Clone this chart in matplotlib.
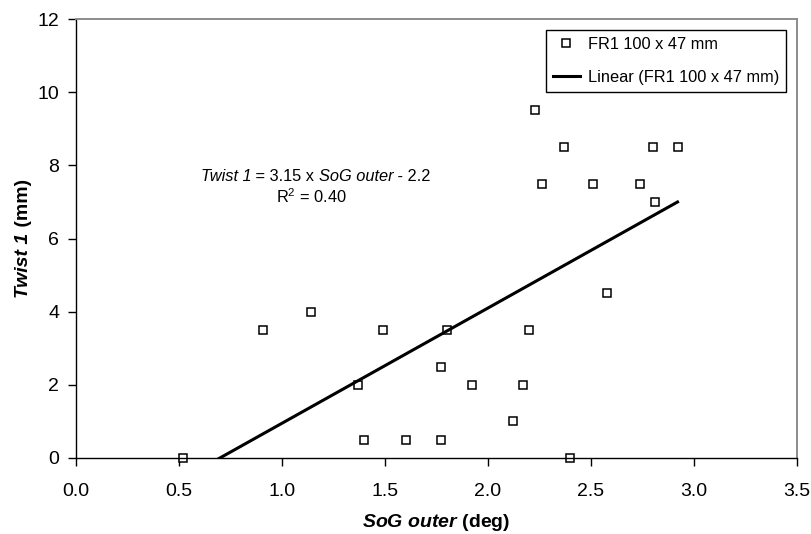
import matplotlib
matplotlib.use("Agg")
import matplotlib.pyplot as plt
import numpy as np

# FR1 100 x 47 mm
sog_outer = [0.52, 0.91, 1.14, 1.37, 1.40, 1.49, 1.60, 1.77, 1.77, 1.80, 1.92, 2.12,
             2.17, 2.20, 2.23, 2.26, 2.37, 2.40, 2.51, 2.58, 2.74, 2.80, 2.81, 2.92]
twist_1 = [0.0, 3.5, 4.0, 2.0, 0.5, 3.5, 0.5, 2.5, 0.5, 3.5, 2.0, 1.0,
           2.0, 3.5, 9.5, 7.5, 8.5, 0.0, 7.5, 4.5, 7.5, 8.5, 7.0, 8.5]

# trendline as printed on the chart
slope = 3.15
intercept = -2.2
r_squared = 0.40

x_ticks = [0.0, 0.5, 1.0, 1.5, 2.0, 2.5, 3.0, 3.5]
y_ticks = [0, 2, 4, 6, 8, 10, 12]
series_label = "FR1 100 x 47 mm"

plt.rcParams['font.family'] = ['Liberation Sans', 'DejaVu Sans']
plt.rcParams['mathtext.fontset'] = 'custom'
plt.rcParams['mathtext.rm'] = 'Liberation Sans'
plt.rcParams['mathtext.it'] = 'Liberation Sans:italic'
plt.rcParams['mathtext.bf'] = 'Liberation Sans:bold'
plt.rcParams['mathtext.bfit'] = 'Liberation Sans:italic:bold'

fig = plt.figure(figsize=(8.12, 5.34), dpi=100)
ax = fig.add_axes([76/812, 76/534, 721/812, 439/534])

ax.plot(sog_outer, twist_1, linestyle='none', marker='s', markersize=5.5,
        markerfacecolor='white', markeredgecolor='black', markeredgewidth=1.1,
        label=series_label, zorder=2, clip_on=False)

fit_x = np.array([min(sog_outer), max(sog_outer)])
ax.plot(fit_x, slope * fit_x + intercept, color='black', lw=2.2,
        label="Linear (" + series_label + ")", zorder=3)

ax.set_xlim(0, 3.5)
ax.set_ylim(0, 12)
ax.set_xticks(x_ticks)
ax.set_xticklabels(["%.1f" % t for t in x_ticks])
ax.set_yticks(y_ticks)

for side in ['left', 'bottom']:
    ax.spines[side].set_color('black')
    ax.spines[side].set_linewidth(1.0)
for side in ['top', 'right']:
    ax.spines[side].set_color('#8c8c8c')
    ax.spines[side].set_linewidth(1.4)

ax.tick_params(direction='out', length=6, width=1, labelsize=14)
ax.tick_params(axis='x', pad=12)
ax.tick_params(axis='y', pad=6)

ax.set_xlabel(r"$\mathbfit{SoG\ outer}$ (deg)", fontsize=14, fontweight='bold')
ax.xaxis.set_label_coords(0.5, -0.124)

# y label: "Twist 1" bold italic followed by "(mm)" bold, written upward
yl1 = ax.text(-0.0666, 0.3656, "Twist 1", transform=ax.transAxes, rotation=90,
              rotation_mode='anchor', ha='left', va='baseline', fontsize=14,
              fontweight='bold', fontstyle='italic')
ax.annotate(" (mm)", xy=(-0.0666, 1.0), xycoords=(ax.transAxes, yl1), rotation=90,
            rotation_mode='anchor', ha='left', va='baseline', fontsize=14,
            fontweight='bold', annotation_clip=False)

# trendline equation, italic and upright pieces chained left to right
eq_parts = [("Twist 1", 'italic'), (" = %.2f x " % slope, 'normal'),
            ("SoG outer", 'italic'), (" - %.1f" % abs(intercept), 'normal')]
prev = ax.text(0.605, 7.56, eq_parts[0][0], ha='left', va='baseline',
               fontsize=11.8, fontstyle=eq_parts[0][1])
for txt, st in eq_parts[1:]:
    prev = ax.annotate(txt, xy=(1.0, 7.56), xycoords=(prev, 'data'), ha='left',
                       va='baseline', fontsize=11.8, fontstyle=st)
ax.text(1.142, 6.98, r"R$^{\mathrm{2}}$ = %.2f" % r_squared, ha='center', va='baseline', fontsize=11.8)

leg = ax.legend(loc='upper right', fontsize=11.8, frameon=True, fancybox=False,
                edgecolor='black', framealpha=1, borderaxespad=0.65, handlelength=1.6,
                handletextpad=0.5, labelspacing=1.1, borderpad=0.45, numpoints=1)
leg.get_frame().set_linewidth(1.0)

fig.savefig("out.png", dpi=100)
